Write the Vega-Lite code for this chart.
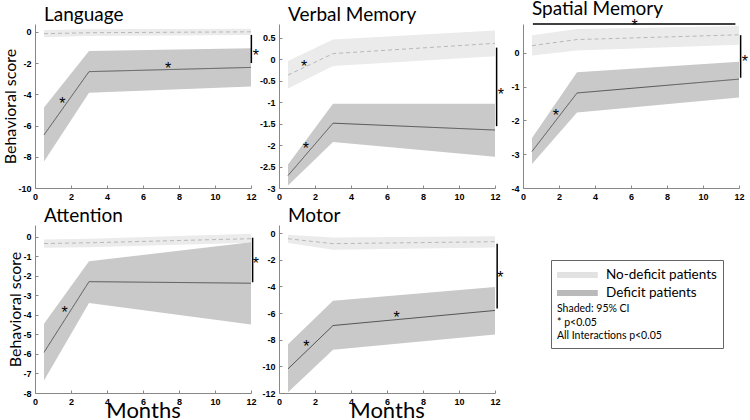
{
  "$schema": "https://vega.github.io/schema/vega-lite/v6.json",
  "columns": 3,
  "spacing": {"row": 37, "column": 28},
  "bounds": "flush",
  "padding": {"left": 2, "top": 0, "right": 0, "bottom": 0},
  "datasets": {
    "series": [
      {"panel": "Language", "group": "No-deficit patients", "month": 0.5, "mean": -0.12, "lo": -0.35, "hi": 0.12},
      {"panel": "Language", "group": "No-deficit patients", "month": 3, "mean": -0.06, "lo": -0.27, "hi": 0.16},
      {"panel": "Language", "group": "No-deficit patients", "month": 12, "mean": 0.0, "lo": -0.2, "hi": 0.2},
      {"panel": "Language", "group": "Deficit patients", "month": 0.5, "mean": -6.6, "lo": -8.3, "hi": -4.85},
      {"panel": "Language", "group": "Deficit patients", "month": 3, "mean": -2.55, "lo": -3.9, "hi": -1.23},
      {"panel": "Language", "group": "Deficit patients", "month": 12, "mean": -2.28, "lo": -3.5, "hi": -1.06},
      {"panel": "Verbal Memory", "group": "No-deficit patients", "month": 0.5, "mean": -0.37, "lo": -0.68, "hi": -0.04},
      {"panel": "Verbal Memory", "group": "No-deficit patients", "month": 3, "mean": 0.13, "lo": -0.16, "hi": 0.46},
      {"panel": "Verbal Memory", "group": "No-deficit patients", "month": 12, "mean": 0.37, "lo": 0.07, "hi": 0.67},
      {"panel": "Verbal Memory", "group": "Deficit patients", "month": 0.5, "mean": -2.71, "lo": -2.94, "hi": -2.45},
      {"panel": "Verbal Memory", "group": "Deficit patients", "month": 3, "mean": -1.49, "lo": -1.93, "hi": -1.04},
      {"panel": "Verbal Memory", "group": "Deficit patients", "month": 12, "mean": -1.65, "lo": -2.27, "hi": -1.04},
      {"panel": "Spatial Memory", "group": "No-deficit patients", "month": 0.5, "mean": 0.21, "lo": -0.08, "hi": 0.52},
      {"panel": "Spatial Memory", "group": "No-deficit patients", "month": 3, "mean": 0.39, "lo": 0.07, "hi": 0.7},
      {"panel": "Spatial Memory", "group": "No-deficit patients", "month": 12, "mean": 0.53, "lo": 0.24, "hi": 0.79},
      {"panel": "Spatial Memory", "group": "Deficit patients", "month": 0.5, "mean": -2.92, "lo": -3.29, "hi": -2.52},
      {"panel": "Spatial Memory", "group": "Deficit patients", "month": 3, "mean": -1.19, "lo": -1.77, "hi": -0.58},
      {"panel": "Spatial Memory", "group": "Deficit patients", "month": 12, "mean": -0.78, "lo": -1.32, "hi": -0.27},
      {"panel": "Attention", "group": "No-deficit patients", "month": 0.5, "mean": -0.35, "lo": -0.57, "hi": -0.14},
      {"panel": "Attention", "group": "No-deficit patients", "month": 3, "mean": -0.31, "lo": -0.54, "hi": -0.1},
      {"panel": "Attention", "group": "No-deficit patients", "month": 12, "mean": -0.1, "lo": -0.31, "hi": 0.15},
      {"panel": "Attention", "group": "Deficit patients", "month": 0.5, "mean": -5.92, "lo": -7.36, "hi": -4.46},
      {"panel": "Attention", "group": "Deficit patients", "month": 3, "mean": -2.3, "lo": -3.39, "hi": -1.26},
      {"panel": "Attention", "group": "Deficit patients", "month": 12, "mean": -2.38, "lo": -4.49, "hi": -0.28},
      {"panel": "Motor", "group": "No-deficit patients", "month": 0.5, "mean": -0.43, "lo": -0.75, "hi": -0.13},
      {"panel": "Motor", "group": "No-deficit patients", "month": 3, "mean": -0.8, "lo": -1.26, "hi": -0.33},
      {"panel": "Motor", "group": "No-deficit patients", "month": 12, "mean": -0.65, "lo": -1.08, "hi": -0.25},
      {"panel": "Motor", "group": "Deficit patients", "month": 0.5, "mean": -10.19, "lo": -11.95, "hi": -8.35},
      {"panel": "Motor", "group": "Deficit patients", "month": 3, "mean": -6.94, "lo": -8.75, "hi": -5.08},
      {"panel": "Motor", "group": "Deficit patients", "month": 12, "mean": -5.81, "lo": -7.62, "hi": -4.05}
    ],
    "bars": [
      {"panel": "Language", "x": 12.02, "x2": 12.02, "y": -0.2, "y2": -2.0},
      {"panel": "Verbal Memory", "x": 12.09, "x2": 12.09, "y": 0.27, "y2": -1.56},
      {"panel": "Spatial Memory", "x": 12.09, "x2": 12.09, "y": 0.52, "y2": -0.74},
      {"panel": "Spatial Memory", "x": 0.55, "x2": 11.8, "y": 0.85, "y2": 0.85},
      {"panel": "Attention", "x": 12.09, "x2": 12.09, "y": -0.05, "y2": -2.33},
      {"panel": "Motor", "x": 12.12, "x2": 12.12, "y": -0.8, "y2": -5.66}
    ],
    "stars": [
      {"panel": "Language", "x": 1.52, "y": -4.36},
      {"panel": "Language", "x": 7.4, "y": -2.13},
      {"panel": "Language", "x": 12.27, "y": -1.28},
      {"panel": "Verbal Memory", "x": 1.4, "y": -0.08},
      {"panel": "Verbal Memory", "x": 1.49, "y": -2.0},
      {"panel": "Verbal Memory", "x": 12.32, "y": -0.74},
      {"panel": "Spatial Memory", "x": 1.83, "y": -1.75},
      {"panel": "Spatial Memory", "x": 6.2, "y": 0.9},
      {"panel": "Spatial Memory", "x": 12.33, "y": -0.17},
      {"panel": "Attention", "x": 1.65, "y": -3.71},
      {"panel": "Attention", "x": 12.27, "y": -1.21},
      {"panel": "Motor", "x": 1.52, "y": -8.23},
      {"panel": "Motor", "x": 6.54, "y": -6.09},
      {"panel": "Motor", "x": 12.3, "y": -3.1}
    ]
  },
  "resolve": {
    "scale": {"fill": "independent", "stroke": "independent", "strokeDash": "independent"},
    "legend": {"stroke": "independent", "fill": "independent", "strokeDash": "independent"}
  },
  "concat": [
    {
      "title": "Language",
      "width": 216, "height": 164,
      "data": {"name": "series"},
      "transform": [{"filter": "datum.panel === 'Language'"}],
      "encoding": {
        "x": {"field": "month", "type": "quantitative", "scale": {"domain": [0, 12], "nice": false}, "axis": {"values": [0, 2, 4, 6, 8, 10, 12], "tickCount": 20, "title": null, "labelOverlap": false, "labelExpr": "'' + datum.value"}}
      },
      "layer": [
        {
          "mark": {"type": "area"},
          "encoding": {
            "y": {"field": "lo", "type": "quantitative", "stack": null, "scale": {"domain": [-10, 0.5], "nice": false, "zero": false}, "axis": {"values": [-10, -8, -6, -4, -2, 0], "tickCount": 20, "title": "Behavioral score", "labelOverlap": false, "labelExpr": "'' + datum.value"}},
            "y2": {"field": "hi"},
            "fill": {"field": "group", "type": "nominal", "scale": {"domain": ["No-deficit patients", "Deficit patients"], "range": ["#ebebeb", "#c9c9c9"]}, "legend": null}
          }
        },
        {
          "mark": {"type": "line", "strokeWidth": 1},
          "encoding": {
            "y": {"field": "mean", "type": "quantitative"},
            "stroke": {"field": "group", "type": "nominal", "scale": {"domain": ["No-deficit patients", "Deficit patients"], "range": ["#b8b8b8", "#555555"]}, "legend": null},
            "strokeDash": {"field": "group", "type": "nominal", "scale": {"domain": ["No-deficit patients", "Deficit patients"], "range": [[4, 3], [1, 0]]}, "legend": null}
          }
        },
        {
          "data": {"name": "bars"},
          "transform": [{"filter": "datum.panel === 'Language'"}],
          "mark": {"type": "rule", "color": "#000", "strokeWidth": 1.5},
          "encoding": {"x": {"field": "x", "type": "quantitative"}, "x2": {"field": "x2"}, "y": {"field": "y", "type": "quantitative"}, "y2": {"field": "y2"}}
        },
        {
          "data": {"name": "stars"},
          "transform": [{"filter": "datum.panel === 'Language'"}],
          "mark": {"type": "text", "text": "*", "font": "Liberation Sans", "fontSize": 16, "color": "#000", "baseline": "middle", "align": "center", "dy": 4},
          "encoding": {"x": {"field": "x", "type": "quantitative"}, "y": {"field": "y", "type": "quantitative"}}
        }
      ]
    },
    {
      "title": "Verbal Memory",
      "width": 216, "height": 164,
      "data": {"name": "series"},
      "transform": [{"filter": "datum.panel === 'Verbal Memory'"}],
      "encoding": {
        "x": {"field": "month", "type": "quantitative", "scale": {"domain": [0, 12], "nice": false}, "axis": {"values": [0, 2, 4, 6, 8, 10, 12], "tickCount": 20, "title": null, "labelOverlap": false, "labelExpr": "'' + datum.value"}}
      },
      "layer": [
        {
          "mark": {"type": "area"},
          "encoding": {
            "y": {"field": "lo", "type": "quantitative", "stack": null, "scale": {"domain": [-3, 0.82], "nice": false, "zero": false}, "axis": {"values": [-3, -2.5, -2, -1.5, -1, -0.5, 0, 0.5], "tickCount": 20, "title": null, "labelOverlap": false, "labelExpr": "'' + datum.value"}},
            "y2": {"field": "hi"},
            "fill": {"field": "group", "type": "nominal", "scale": {"domain": ["No-deficit patients", "Deficit patients"], "range": ["#ebebeb", "#c9c9c9"]}, "legend": null}
          }
        },
        {
          "mark": {"type": "line", "strokeWidth": 1},
          "encoding": {
            "y": {"field": "mean", "type": "quantitative"},
            "stroke": {"field": "group", "type": "nominal", "scale": {"domain": ["No-deficit patients", "Deficit patients"], "range": ["#b8b8b8", "#555555"]}, "legend": null},
            "strokeDash": {"field": "group", "type": "nominal", "scale": {"domain": ["No-deficit patients", "Deficit patients"], "range": [[4, 3], [1, 0]]}, "legend": null}
          }
        },
        {
          "data": {"name": "bars"},
          "transform": [{"filter": "datum.panel === 'Verbal Memory'"}],
          "mark": {"type": "rule", "color": "#000", "strokeWidth": 1.5},
          "encoding": {"x": {"field": "x", "type": "quantitative"}, "x2": {"field": "x2"}, "y": {"field": "y", "type": "quantitative"}, "y2": {"field": "y2"}}
        },
        {
          "data": {"name": "stars"},
          "transform": [{"filter": "datum.panel === 'Verbal Memory'"}],
          "mark": {"type": "text", "text": "*", "font": "Liberation Sans", "fontSize": 16, "color": "#000", "baseline": "middle", "align": "center", "dy": 4},
          "encoding": {"x": {"field": "x", "type": "quantitative"}, "y": {"field": "y", "type": "quantitative"}}
        }
      ]
    },
    {
      "title": "Spatial Memory",
      "width": 216, "height": 164,
      "data": {"name": "series"},
      "transform": [{"filter": "datum.panel === 'Spatial Memory'"}],
      "encoding": {
        "x": {"field": "month", "type": "quantitative", "scale": {"domain": [0, 12], "nice": false}, "axis": {"values": [0, 2, 4, 6, 8, 10, 12], "tickCount": 20, "title": null, "labelOverlap": false, "labelExpr": "'' + datum.value"}}
      },
      "layer": [
        {
          "mark": {"type": "area"},
          "encoding": {
            "y": {"field": "lo", "type": "quantitative", "stack": null, "scale": {"domain": [-4, 0.85], "nice": false, "zero": false}, "axis": {"values": [-4, -3, -2, -1, 0], "tickCount": 20, "title": null, "labelOverlap": false, "labelExpr": "'' + datum.value"}},
            "y2": {"field": "hi"},
            "fill": {"field": "group", "type": "nominal", "scale": {"domain": ["No-deficit patients", "Deficit patients"], "range": ["#ebebeb", "#c9c9c9"]}, "legend": null}
          }
        },
        {
          "mark": {"type": "line", "strokeWidth": 1},
          "encoding": {
            "y": {"field": "mean", "type": "quantitative"},
            "stroke": {"field": "group", "type": "nominal", "scale": {"domain": ["No-deficit patients", "Deficit patients"], "range": ["#b8b8b8", "#555555"]}, "legend": null},
            "strokeDash": {"field": "group", "type": "nominal", "scale": {"domain": ["No-deficit patients", "Deficit patients"], "range": [[4, 3], [1, 0]]}, "legend": null}
          }
        },
        {
          "data": {"name": "bars"},
          "transform": [{"filter": "datum.panel === 'Spatial Memory'"}],
          "mark": {"type": "rule", "color": "#000", "strokeWidth": 1.5},
          "encoding": {"x": {"field": "x", "type": "quantitative"}, "x2": {"field": "x2"}, "y": {"field": "y", "type": "quantitative"}, "y2": {"field": "y2"}}
        },
        {
          "data": {"name": "stars"},
          "transform": [{"filter": "datum.panel === 'Spatial Memory'"}],
          "mark": {"type": "text", "text": "*", "font": "Liberation Sans", "fontSize": 16, "color": "#000", "baseline": "middle", "align": "center", "dy": 4},
          "encoding": {"x": {"field": "x", "type": "quantitative"}, "y": {"field": "y", "type": "quantitative"}}
        }
      ]
    },
    {
      "title": "Attention",
      "width": 216, "height": 168,
      "data": {"name": "series"},
      "transform": [{"filter": "datum.panel === 'Attention'"}],
      "encoding": {
        "x": {"field": "month", "type": "quantitative", "scale": {"domain": [0, 12], "nice": false}, "axis": {"values": [0, 2, 4, 6, 8, 10, 12], "tickCount": 20, "title": "Months", "labelOverlap": false, "labelExpr": "'' + datum.value"}}
      },
      "layer": [
        {
          "mark": {"type": "area"},
          "encoding": {
            "y": {"field": "lo", "type": "quantitative", "stack": null, "scale": {"domain": [-8, 0.6], "nice": false, "zero": false}, "axis": {"values": [-8, -7, -6, -5, -4, -3, -2, -1, 0], "tickCount": 20, "title": "Behavioral score", "labelOverlap": false, "labelExpr": "'' + datum.value"}},
            "y2": {"field": "hi"},
            "fill": {"field": "group", "type": "nominal", "scale": {"domain": ["No-deficit patients", "Deficit patients"], "range": ["#ebebeb", "#c9c9c9"]}, "legend": null}
          }
        },
        {
          "mark": {"type": "line", "strokeWidth": 1},
          "encoding": {
            "y": {"field": "mean", "type": "quantitative"},
            "stroke": {"field": "group", "type": "nominal", "scale": {"domain": ["No-deficit patients", "Deficit patients"], "range": ["#b8b8b8", "#555555"]}, "legend": null},
            "strokeDash": {"field": "group", "type": "nominal", "scale": {"domain": ["No-deficit patients", "Deficit patients"], "range": [[4, 3], [1, 0]]}, "legend": null}
          }
        },
        {
          "data": {"name": "bars"},
          "transform": [{"filter": "datum.panel === 'Attention'"}],
          "mark": {"type": "rule", "color": "#000", "strokeWidth": 1.5},
          "encoding": {"x": {"field": "x", "type": "quantitative"}, "x2": {"field": "x2"}, "y": {"field": "y", "type": "quantitative"}, "y2": {"field": "y2"}}
        },
        {
          "data": {"name": "stars"},
          "transform": [{"filter": "datum.panel === 'Attention'"}],
          "mark": {"type": "text", "text": "*", "font": "Liberation Sans", "fontSize": 16, "color": "#000", "baseline": "middle", "align": "center", "dy": 4},
          "encoding": {"x": {"field": "x", "type": "quantitative"}, "y": {"field": "y", "type": "quantitative"}}
        }
      ]
    },
    {
      "title": "Motor",
      "width": 216, "height": 168,
      "data": {"name": "series"},
      "transform": [{"filter": "datum.panel === 'Motor'"}],
      "encoding": {
        "x": {"field": "month", "type": "quantitative", "scale": {"domain": [0, 12], "nice": false}, "axis": {"values": [0, 2, 4, 6, 8, 10, 12], "tickCount": 20, "title": "Months", "labelOverlap": false, "labelExpr": "'' + datum.value"}}
      },
      "layer": [
        {
          "transform": [{"filter": "datum.group === 'No-deficit patients'"}],
          "mark": {"type": "area", "color": "#ebebeb"},
          "encoding": {
            "y": {"field": "lo", "type": "quantitative", "stack": null, "scale": {"domain": [-12, 0.6], "nice": false, "zero": false}, "axis": {"values": [-12, -10, -8, -6, -4, -2, 0], "tickCount": 20, "title": null, "labelOverlap": false, "labelExpr": "'' + datum.value"}},
            "y2": {"field": "hi"}
          }
        },
        {
          "transform": [{"filter": "datum.group === 'Deficit patients'"}],
          "mark": {"type": "area", "color": "#c9c9c9"},
          "encoding": {
            "y": {"field": "lo", "type": "quantitative", "stack": null},
            "y2": {"field": "hi"}
          }
        },
        {
          "transform": [{"filter": "datum.group === 'No-deficit patients'"}],
          "mark": {"type": "line", "strokeWidth": 1, "strokeDash": [4, 3]},
          "encoding": {
            "y": {"field": "mean", "type": "quantitative"},
            "stroke": {
              "field": "group", "type": "nominal",
              "scale": {"domain": ["No-deficit patients", "Deficit patients"], "range": ["#b8b8b8", "#555555"]},
              "legend": {
                "orient": "none", "legendX": 272, "legendY": 35,
                "title": ["Shaded: 95% CI", "* p<0.05", "All Interactions p<0.05"],
                "titleOrient": "bottom", "titleAnchor": "start", "titleFont": "Lato", "titleFontSize": 10.5, "titleFontWeight": "normal", "titleColor": "#000", "titleLineHeight": 13.5, "titlePadding": 2,
                "labelFont": "Lato", "labelFontSize": 13.5, "labelColor": "#000", "labelOffset": 29,
                "symbolType": "M-1.6,0H4.4", "symbolSize": 196, "symbolStrokeWidth": 6, "symbolOpacity": 0.4,
                "clipHeight": 18, "rowPadding": 0,
                "strokeColor": "#666", "padding": 6
              }
            }
          }
        },
        {
          "transform": [{"filter": "datum.group === 'Deficit patients'"}],
          "mark": {"type": "line", "strokeWidth": 1},
          "encoding": {
            "y": {"field": "mean", "type": "quantitative"},
            "stroke": {"field": "group", "type": "nominal"}
          }
        },
        {
          "data": {"name": "bars"},
          "transform": [{"filter": "datum.panel === 'Motor'"}],
          "mark": {"type": "rule", "color": "#000", "strokeWidth": 1.5},
          "encoding": {"x": {"field": "x", "type": "quantitative"}, "x2": {"field": "x2"}, "y": {"field": "y", "type": "quantitative"}, "y2": {"field": "y2"}}
        },
        {
          "data": {"name": "stars"},
          "transform": [{"filter": "datum.panel === 'Motor'"}],
          "mark": {"type": "text", "text": "*", "font": "Liberation Sans", "fontSize": 16, "color": "#000", "baseline": "middle", "align": "center", "dy": 4},
          "encoding": {"x": {"field": "x", "type": "quantitative"}, "y": {"field": "y", "type": "quantitative"}}
        }
      ]
    }
  ],
  "config": {
    "view": {"stroke": null},
    "axis": {"grid": false, "domainColor": "#888", "tickColor": "#888", "tickSize": -3, "labelFont": "Liberation Sans", "labelFontSize": 9, "labelFontWeight": "bold", "labelColor": "#000", "labelPadding": 7, "labelOverlap": false, "titleFont": "Lato", "titleFontWeight": "normal", "titleColor": "#000"},
    "axisX": {"labelFont": "Liberation Sans", "titleFontSize": 22, "titlePadding": -6, "labelFlush": false},
    "axisY": {"labelFont": "Liberation Sans", "titleFontSize": 16, "titlePadding": -1},
    "title": {"font": "Lato", "fontSize": 19, "fontWeight": "normal", "anchor": "start", "frame": "group", "offset": -4, "dy": -3, "dx": 9, "color": "#000"}
  }
}
